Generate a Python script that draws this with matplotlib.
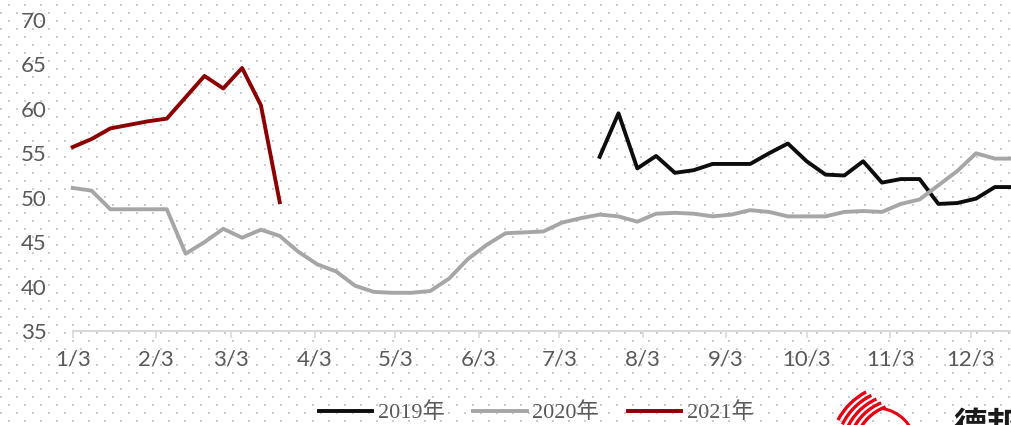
import numpy as np
import pandas as pd
import matplotlib
matplotlib.use("Agg")
from matplotlib import pyplot as plt
from matplotlib.patches import Arc

# weekly readings, plotted by month/day on a common axis starting 1/3
start = pd.Timestamp("2021-01-03")

v2019 = [54.6, 59.5, 53.3, 54.7, 52.8, 53.1, 53.8, 53.8, 53.8, 55.0, 56.1,
         54.1, 52.6, 52.5, 54.1, 51.7, 52.1, 52.1, 49.3, 49.4, 49.9, 51.2, 51.2]
v2020 = [51.1, 50.8, 48.7, 48.7, 48.7, 48.7, 43.7, 45.0, 46.5, 45.5, 46.4,
         45.7, 43.9, 42.5, 41.7, 40.1, 39.4, 39.3, 39.3, 39.5, 40.9, 43.1,
         44.7, 46.0, 46.1, 46.2, 47.2, 47.7, 48.1, 47.9, 47.3, 48.2, 48.3,
         48.2, 47.9, 48.1, 48.6, 48.4, 47.9, 47.9, 47.9, 48.4, 48.5, 48.4,
         49.3, 49.8, 51.4, 53.0, 55.0, 54.4, 54.4]
v2021 = [55.7, 56.6, 57.8, 58.2, 58.6, 58.9, 61.3, 63.7, 62.3, 64.6, 60.4, 49.5]
first_week_2019 = 28

month_ticks = ["1/3", "2/3", "3/3", "4/3", "5/3", "6/3", "7/3", "8/3",
               "9/3", "10/3", "11/3", "12/3"]
series_names = ["2019年", "2020年", "2021年"]
series_colors = ["#0d0d0d", "#a6a6a6", "#8b0000"]


def week_days(first, n):
    return [7 * (first + k) for k in range(n)]


def tick_days(labels):
    out = []
    for lab in labels:
        m, d = lab.split("/")
        out.append((pd.Timestamp(2021, int(m), int(d)) - start).days)
    return out


W, H = 1011, 425
fig = plt.figure(figsize=(W / 100, H / 100), dpi=100)

# dotted pattern background
bg = np.ones((H, W, 3))
for r, y in enumerate(range(4, H, 8)):
    x0 = 8 if r % 2 == 0 else 0
    for dx in (0, 1):
        bg[y:y + 2, x0 + dx::16] = 0.80
fig.figimage(bg, 0, 0, origin="upper", zorder=-10)

ax = fig.add_axes([72.7 / W, 94 / H, 1 - 72.7 / W, 311 / H])
ax.patch.set_alpha(0)

xs = [week_days(first_week_2019, len(v2019)),
      week_days(0, len(v2020)),
      week_days(0, len(v2021))]
for x, v, name, c in zip(xs, [v2019, v2020, v2021], series_names, series_colors):
    ax.plot(x, v, color=c, lw=2.8, label=name, clip_on=False)

ax.set_xlim(0, 349)
ax.set_ylim(35, 70)
ax.set_yticks(range(35, 71, 5))
ax.set_xticks(tick_days(month_ticks))
ax.set_xticklabels(month_ticks)

for s in ["top", "right", "left"]:
    ax.spines[s].set_visible(False)
ax.spines["bottom"].set_color("#d9d9d9")
ax.spines["bottom"].set_linewidth(1.5)
ax.tick_params(axis="x", length=5, width=1.2, color="#d9d9d9", pad=8,
               labelsize=16, labelcolor="#595959")
ax.tick_params(axis="y", length=0, pad=19, labelsize=16, labelcolor="#595959")
for lab in ax.get_xticklabels() + ax.get_yticklabels():
    lab.set_family("Lato")

fig.legend(loc="center", bbox_to_anchor=(536 / W, 1 - 413 / H), ncol=3,
           frameon=False, handlelength=2.4, handletextpad=0.25,
           columnspacing=1.3,
           prop={"family": ["Liberation Serif", "Noto Sans CJK SC"], "size": 16},
           labelcolor="#595959")

# logo in the bottom right corner (cut by the picture edge, as in the source)
lg = fig.add_axes([0, 0, 1, 1], zorder=-5)
lg.set_xlim(0, W)
lg.set_ylim(H, 0)
lg.axis("off")
red = "#e60012"
lg.add_patch(Arc((876, 448), 80, 80, theta1=280, theta2=350, color=red, lw=2.2))
for k in range(5):
    r = 48 + 5 * k
    lg.add_patch(Arc((902 - k, 452), 2 * r, 2 * r, theta1=200 + 2 * k,
                     theta2=250 - 2 * k, color=red, lw=2.4))
lg.text(953, 410, "德邦", fontsize=24, fontweight="bold", color="#1a1a1a",
        family="Noto Sans CJK SC", va="top", ha="left")

fig.savefig("out.png", dpi=100)
